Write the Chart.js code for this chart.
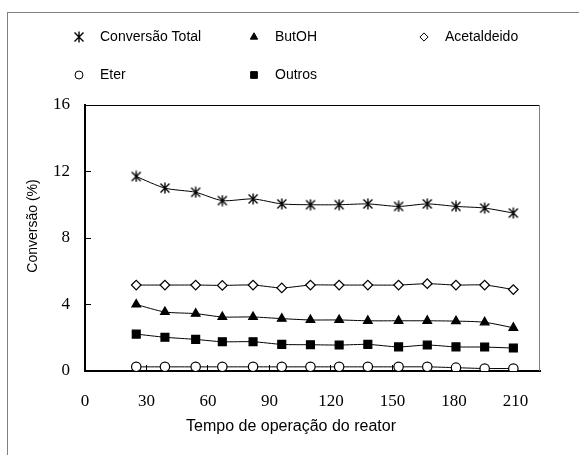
<!DOCTYPE html>
<html><head><meta charset="utf-8">
<script src="https://cdn.jsdelivr.net/npm/chart.js@4/dist/chart.umd.min.js"></script>
<style>
html,body{margin:0;padding:0;background:#fff;}
#wrap{position:relative;width:579px;height:455px;overflow:hidden;}
#frame{position:absolute;left:7px;top:12px;width:640px;height:520px;border:1px solid #808080;box-sizing:border-box;}
canvas{position:absolute;left:0;top:0;}
</style></head><body>
<div id="wrap"><div id="frame"></div><canvas id="c" width="579" height="455"></canvas></div>
<script>
const times = [25, 39, 54, 67, 82, 96, 110, 124, 138, 153, 167, 181, 195, 209];
const conversaoTotal = [11.7, 11.0, 10.75, 10.25, 10.35, 10.05, 10.0, 10.0, 10.05, 9.9, 10.05, 9.9, 9.8, 9.5];
const butOH = [4.0, 3.55, 3.45, 3.25, 3.25, 3.15, 3.07, 3.07, 3.02, 3.02, 3.02, 3.0, 2.93, 2.6];
const acetaldeido = [5.17, 5.17, 5.17, 5.15, 5.17, 5.0, 5.17, 5.17, 5.17, 5.17, 5.25, 5.17, 5.17, 4.9];
const eter = [0.25, 0.25, 0.25, 0.25, 0.25, 0.25, 0.25, 0.25, 0.25, 0.25, 0.25, 0.2, 0.15, 0.15];
const outros = [2.22, 2.03, 1.9, 1.76, 1.76, 1.6, 1.58, 1.56, 1.6, 1.45, 1.56, 1.45, 1.44, 1.38];
const xTicks = [0, 30, 60, 90, 120, 150, 180, 210];
const yTicks = [0, 4, 8, 12, 16];
const seriesNames = ['Conversão Total', 'ButOH', 'Acetaldeido', 'Eter', 'Outros'];

function starMarker() {
  const c = document.createElement('canvas');
  c.width = 12; c.height = 12;
  const g = c.getContext('2d');
  g.strokeStyle = '#000'; g.lineWidth = 1.4;
  g.beginPath();
  g.moveTo(1.5, 1.5); g.lineTo(10.5, 10.5);
  g.moveTo(10.5, 1.5); g.lineTo(1.5, 10.5);
  g.moveTo(6, 0.5); g.lineTo(6, 11.5);
  g.stroke();
  return c;
}
const star = starMarker();
const pts = arr => times.map((t, i) => ({x: t, y: arr[i]}));

const styles = [
  {pointStyle: star, radius: 6, bg: '#000'},
  {pointStyle: 'triangle', radius: 5, bg: '#000'},
  {pointStyle: 'rectRot', radius: 4.8, bg: '#fff'},
  {pointStyle: 'circle', radius: 4.7, bg: '#fff'},
  {pointStyle: 'rect', radius: 5.6, bg: '#000'}
];
const values = [conversaoTotal, butOH, acetaldeido, eter, outros];

const datasets = values.map((arr, i) => ({
  label: seriesNames[i],
  data: pts(arr),
  showLine: true,
  borderColor: '#000',
  borderWidth: 1,
  tension: 0.25,
  pointStyle: styles[i].pointStyle,
  pointRadius: styles[i].radius,
  pointBackgroundColor: styles[i].bg,
  pointBorderColor: '#000',
  pointBorderWidth: 1.2
}));

const decor = {
  id: 'decor',
  afterDraw(chart) {
    const {ctx, chartArea: a} = chart;
    ctx.save();
    ctx.lineWidth = 1;
    ctx.strokeStyle = '#000';
    ctx.beginPath(); ctx.moveTo(a.left, a.top + 0.5); ctx.lineTo(a.right, a.top + 0.5); ctx.stroke();
    ctx.strokeStyle = '#808080';
    ctx.beginPath(); ctx.moveTo(a.right - 0.5, a.top); ctx.lineTo(a.right - 0.5, a.bottom); ctx.stroke();
    ctx.fillStyle = '#000';
    ctx.textAlign = 'center'; ctx.textBaseline = 'middle';
    ctx.font = '16px "Liberation Sans", Arial, sans-serif';
    ctx.fillText('Tempo de operação do reator', 291, 427);
    ctx.save();
    ctx.translate(33, 226); ctx.rotate(-Math.PI / 2);
    ctx.font = '14px "Liberation Sans", Arial, sans-serif';
    ctx.fillText('Conversão (%)', 0, 0);
    ctx.restore();
    // legend
    const pos = [[79, 37], [254, 37], [424, 37], [79, 75], [254, 75]];
    ctx.font = '14px "Liberation Sans", Arial, sans-serif';
    ctx.textAlign = 'left';
    chart.data.datasets.forEach((ds, i) => {
      const [x, y] = pos[i];
      ctx.fillStyle = ds.pointBackgroundColor;
      ctx.strokeStyle = '#000';
      ctx.lineWidth = 1;
      Chart.helpers.drawPoint(ctx, {pointStyle: ds.pointStyle, radius: ds.pointRadius * 0.85, rotation: 0, borderWidth: 1}, x, y);
      ctx.fillStyle = '#000';
      ctx.fillText(ds.label, x + 21, y);
    });
    ctx.restore();
  }
};

new Chart(document.getElementById('c'), {
  type: 'scatter',
  data: {datasets},
  options: {
    responsive: false,
    animation: false,
    events: [],
    layout: {padding: {left: 0, right: 39, top: 105, bottom: 0}},
    plugins: {legend: {display: false}, tooltip: {enabled: false}},
    scales: {
      x: {
        type: 'linear', min: 0, max: 222,
        afterBuildTicks: s => { s.ticks = xTicks.map(v => ({value: v})); },
        afterFit: s => { s.height = 84; },
        grid: {drawOnChartArea: false, drawTicks: true, tickLength: -6, color: '#000', lineWidth: 1},
        border: {color: '#000', width: 2},
        ticks: {padding: 26, color: '#000', maxRotation: 0, autoSkip: false,
          font: {family: '"Liberation Serif", "Times New Roman", serif', size: 17}}
      },
      y: {
        min: 0, max: 16,
        afterBuildTicks: s => { s.ticks = yTicks.map(v => ({value: v})); },
        afterFit: s => { s.width = 85; },
        grid: {drawOnChartArea: false, drawTicks: true, tickLength: -6, color: '#000', lineWidth: 1},
        border: {color: '#000', width: 2},
        ticks: {padding: 21, color: '#000', autoSkip: false,
          font: {family: '"Liberation Serif", "Times New Roman", serif', size: 17}}
      }
    }
  },
  plugins: [decor]
});
</script>
</body></html>
